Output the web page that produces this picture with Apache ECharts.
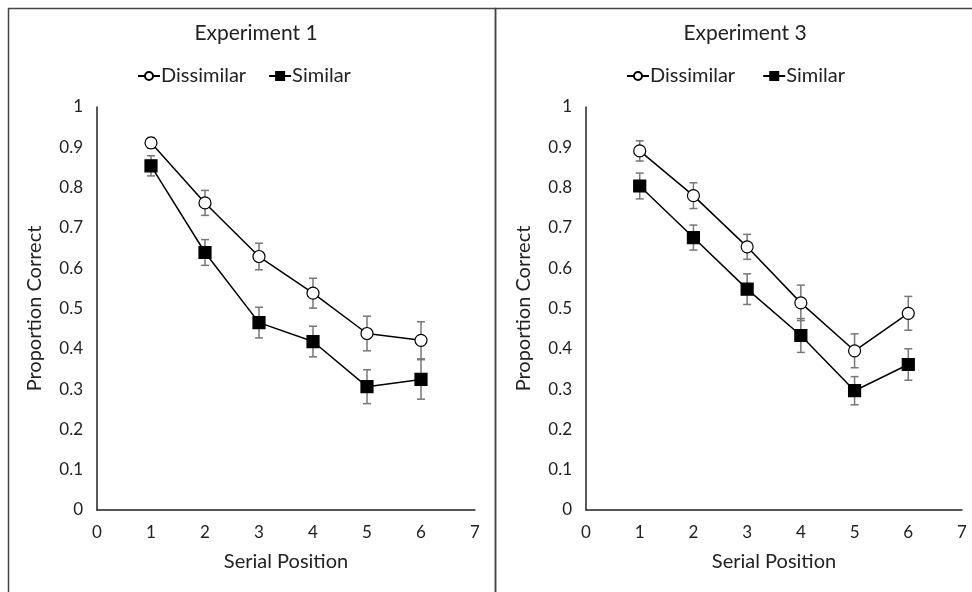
<!DOCTYPE html>
<html>
<head>
<meta charset="utf-8">
<script src="https://cdn.jsdelivr.net/npm/echarts@6/dist/echarts.min.js"></script>
<style>html,body{margin:0;padding:0;background:#fff}#c{width:972px;height:592px}</style>
</head>
<body>
<div id="c"></div>
<script>
var positions = [1, 2, 3, 4, 5, 6];
var xTicks = [0, 1, 2, 3, 4, 5, 6, 7];
var yTicks = [0, 0.1, 0.2, 0.3, 0.4, 0.5, 0.6, 0.7, 0.8, 0.9, 1];
var titles = ['Experiment 1', 'Experiment 3'];
var seriesNames = ['Dissimilar', 'Similar'];

var exp1Dissimilar = [0.911, 0.762, 0.629, 0.538, 0.438, 0.421];
var exp1DissimilarErr = [0.013, 0.031, 0.033, 0.037, 0.043, 0.046];
var exp1Similar = [0.854, 0.639, 0.465, 0.418, 0.306, 0.324];
var exp1SimilarErr = [0.025, 0.032, 0.038, 0.038, 0.042, 0.049];

var exp3Dissimilar = [0.891, 0.780, 0.653, 0.514, 0.395, 0.488];
var exp3DissimilarErr = [0.025, 0.032, 0.031, 0.044, 0.042, 0.042];
var exp3Similar = [0.804, 0.676, 0.548, 0.433, 0.296, 0.361];
var exp3SimilarErr = [0.032, 0.031, 0.038, 0.042, 0.035, 0.039];

var FONT = 'Lato';
var chart = echarts.init(document.getElementById('c'));

function pts(vals) { return positions.map(function (p, i) { return [p, vals[i]]; }); }
function errs(vals, e) { return positions.map(function (p, i) { return [p, vals[i] - e[i], vals[i] + e[i]]; }); }

function errSeries(idx, data) {
  return {
    type: 'custom', xAxisIndex: idx, yAxisIndex: idx, z: 1, silent: true,
    data: data,
    renderItem: function (params, api) {
      var lo = api.coord([api.value(0), api.value(1)]);
      var hi = api.coord([api.value(0), api.value(2)]);
      var w = 4;
      var st = { stroke: '#777', lineWidth: 1.5 };
      return { type: 'group', children: [
        { type: 'line', shape: { x1: lo[0], y1: lo[1], x2: hi[0], y2: hi[1] }, style: st },
        { type: 'line', shape: { x1: lo[0] - w, y1: lo[1], x2: lo[0] + w, y2: lo[1] }, style: st },
        { type: 'line', shape: { x1: hi[0] - w, y1: hi[1], x2: hi[0] + w, y2: hi[1] }, style: st }
      ]};
    }
  };
}

function lineSeries(idx, name, data, filled) {
  return {
    type: 'line', name: name, xAxisIndex: idx, yAxisIndex: idx, z: 3,
    data: data,
    symbol: filled ? 'rect' : 'circle',
    symbolSize: filled ? 12 : 12,
    lineStyle: { color: '#000', width: 1.5 },
    itemStyle: { color: filled ? '#000' : '#fff', borderColor: '#000', borderWidth: 1.2 },
    emphasis: { disabled: true }
  };
}

var grids = [
  { left: 97, right: 497, top: 107, bottom: 82 },
  { left: 586, right: 10, top: 107, bottom: 82 }
];

function xAx(idx) {
  return {
    type: 'value', gridIndex: idx, min: 0, max: 7, interval: 1,
    name: 'Serial Position', nameLocation: 'middle', nameGap: 42,
    nameTextStyle: { fontFamily: FONT, fontSize: 20, color: '#222' },
    axisLine: { show: true, lineStyle: { color: '#222', width: 1.5 } },
    axisTick: { show: false }, splitLine: { show: false },
    axisLabel: { fontFamily: FONT, fontSize: 17, color: '#222', margin: 14,
      formatter: function (v) { return xTicks.indexOf(v) >= 0 ? String(v) : ''; } }
  };
}
function yAx(idx) {
  return {
    type: 'value', gridIndex: idx, min: 0, max: 1, interval: 0.1,
    name: 'Proportion Correct', nameLocation: 'middle', nameGap: 52, nameRotate: 90,
    nameTextStyle: { fontFamily: FONT, fontSize: 20, color: '#222' },
    axisLine: { show: true, lineStyle: { color: '#222', width: 1.5 } },
    axisTick: { show: false }, splitLine: { show: false },
    axisLabel: { fontFamily: FONT, fontSize: 17, color: '#222', margin: 14,
      formatter: function (v) {
        var r = Math.round(v * 10) / 10;
        return yTicks.indexOf(r) >= 0 ? String(r) : '';
      } }
  };
}

var option = {
  animation: false,
  backgroundColor: '#fff',
  title: [
    { text: titles[0], left: 251, top: 18, textAlign: 'center', textStyle: { fontFamily: FONT, fontSize: 21, fontWeight: 'normal', color: '#222' } },
    { text: titles[1], left: 740, top: 18, textAlign: 'center', textStyle: { fontFamily: FONT, fontSize: 21, fontWeight: 'normal', color: '#222' } }
  ],
  legend: [
    { data: seriesNames.map(function (n) { return { name: n }; }), top: 61, left: 132, itemGap: 22, itemWidth: 22, itemHeight: 10,
      textStyle: { fontFamily: FONT, fontSize: 20, color: '#222', padding: [0, 0, 0, -4] } },
    { data: seriesNames.map(function (n) { return { name: n + ' ' }; }), top: 61, left: 621, itemGap: 22, itemWidth: 22, itemHeight: 10,
      textStyle: { fontFamily: FONT, fontSize: 20, color: '#222', padding: [0, 0, 0, -4] } }
  ],
  grid: grids,
  xAxis: [xAx(0), xAx(1)],
  yAxis: [yAx(0), yAx(1)],
  graphic: [
    { type: 'rect', shape: { x: 8.5, y: 8.5, width: 487, height: 600 }, style: { fill: 'none', stroke: '#444', lineWidth: 1.5 }, silent: true },
    { type: 'rect', shape: { x: 495.5, y: 8.5, width: 500, height: 600 }, style: { fill: 'none', stroke: '#444', lineWidth: 1.5 }, silent: true }
  ],
  series: [
    errSeries(0, errs(exp1Dissimilar, exp1DissimilarErr)),
    errSeries(0, errs(exp1Similar, exp1SimilarErr)),
    lineSeries(0, seriesNames[0], pts(exp1Dissimilar), false),
    lineSeries(0, seriesNames[1], pts(exp1Similar), true),
    errSeries(1, errs(exp3Dissimilar, exp3DissimilarErr)),
    errSeries(1, errs(exp3Similar, exp3SimilarErr)),
    lineSeries(1, seriesNames[0] + ' ', pts(exp3Dissimilar), false),
    lineSeries(1, seriesNames[1] + ' ', pts(exp3Similar), true)
  ]
};
chart.setOption(option);
</script>
</body>
</html>
